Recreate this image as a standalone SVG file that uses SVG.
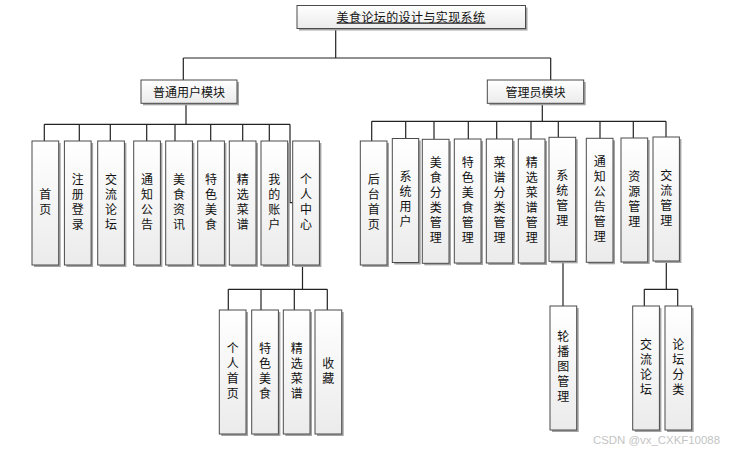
<svg xmlns="http://www.w3.org/2000/svg" width="739" height="452" viewBox="0 0 739 452">
<style>
.sh{fill:#a3a3a3}
.bx{fill:url(#g);stroke:#4a4a4a;stroke-width:1}
.t{font-family:"Noto Sans CJK SC","Noto Sans",sans-serif;font-size:12px;fill:#111;text-anchor:middle}
.v{font-family:"Noto Sans CJK SC","Noto Sans",sans-serif;font-size:12px;fill:#111;text-anchor:middle;writing-mode:vertical-rl;text-orientation:upright;letter-spacing:3px}
.ln{fill:none;stroke:#222;stroke-width:1.2}
.wm{font-family:"Liberation Sans",Arial,sans-serif;font-size:11.5px;fill:#c4c4c4}
</style>
<defs>
<linearGradient id="g" x1="0" y1="0" x2="0" y2="1">
<stop offset="0" stop-color="#ffffff"/>
<stop offset="1" stop-color="#ebebeb"/>
</linearGradient>
</defs>
<rect width="739" height="452" fill="#fff"/>

<g id="connectors" class="ln">
<path d="M335.7 28.7V58M183.3 58H550.7M183.3 58V80M550.7 58V80"/>
<path d="M186 103.3V124.3M44.3 124.3H290M44.3 124.3V141M79.3 124.3V141M110.3 124.3V141M146.7 124.3V141M175 124.3V141M210.7 124.3V141M242.7 124.3V141M269.3 124.3V141M290 124.3V202.7H292.7"/>
<path d="M302.5 265V289.3M228.3 289.3H327.3M228.3 289.3V310M261 289.3V310M294.3 289.3V310M327.3 289.3V310"/>
<path d="M542.3 103.3V121.3M371.7 121.3H666M371.7 121.3V141M405.7 121.3V138.5M434 121.3V139.3M468.3 121.3V139M496.7 121.3V139M531 121.3V139M558.3 121.3V137.3M600 121.3V138.3M633.3 121.3V138M666 121.3V137"/>
<path d="M563 261V306"/>
<path d="M666.3 261V289.3M644.3 289.3H677.7M644.3 289.3V306M677.7 289.3V306"/>
</g>

<g id="root">
<rect class="sh" x="299" y="7.5" width="228.5" height="23"/>
<rect class="bx" x="297" y="5.5" width="228.5" height="23"/>
<text class="t" x="411" y="21.5" letter-spacing="0.4" text-decoration="underline">美食论坛的设计与实现系统</text>
</g>
<g id="user-module">
<rect class="sh" x="143" y="82" width="96" height="23.3"/>
<rect class="bx" x="141" y="80" width="96" height="23.3"/>
<text class="t" x="189" y="96.5">普通用户模块</text>
</g>
<g id="admin-module">
<rect class="sh" x="489.3" y="82" width="96.4" height="23.3"/>
<rect class="bx" x="487.3" y="80" width="96.4" height="23.3"/>
<text class="t" x="535.5" y="96.5">管理员模块</text>
</g>

<g id="n-shouye">
<rect class="sh" x="34" y="143" width="26.7" height="124"/>
<rect class="bx" x="32" y="141" width="26.7" height="124"/>
<text class="v" x="45.3" y="203">首页</text>
</g>
<g id="n-zhuce">
<rect class="sh" x="66.4" y="143" width="26.7" height="124"/>
<rect class="bx" x="64.4" y="141" width="26.7" height="124"/>
<text class="v" x="77.7" y="203">注册登录</text>
</g>
<g id="n-jiaoliu">
<rect class="sh" x="99.7" y="143" width="26.7" height="124"/>
<rect class="bx" x="97.7" y="141" width="26.7" height="124"/>
<text class="v" x="111" y="203">交流论坛</text>
</g>
<g id="n-tongzhi">
<rect class="sh" x="135.7" y="143" width="26.7" height="124"/>
<rect class="bx" x="133.7" y="141" width="26.7" height="124"/>
<text class="v" x="147" y="203">通知公告</text>
</g>
<g id="n-zixun">
<rect class="sh" x="167.7" y="143" width="26.7" height="124"/>
<rect class="bx" x="165.7" y="141" width="26.7" height="124"/>
<text class="v" x="179" y="203">美食资讯</text>
</g>
<g id="n-tese">
<rect class="sh" x="199.7" y="143" width="26.7" height="124"/>
<rect class="bx" x="197.7" y="141" width="26.7" height="124"/>
<text class="v" x="211" y="203">特色美食</text>
</g>
<g id="n-jingxuan">
<rect class="sh" x="231.3" y="143" width="26.7" height="124"/>
<rect class="bx" x="229.3" y="141" width="26.7" height="124"/>
<text class="v" x="242.7" y="203">精选菜谱</text>
</g>
<g id="n-zhanghu">
<rect class="sh" x="263" y="143" width="26.7" height="124"/>
<rect class="bx" x="261" y="141" width="26.7" height="124"/>
<text class="v" x="274.3" y="203">我的账户</text>
</g>
<g id="n-geren">
<rect class="sh" x="294.7" y="143" width="26.7" height="124"/>
<rect class="bx" x="292.7" y="141" width="26.7" height="124"/>
<text class="v" x="306" y="203">个人中心</text>
</g>

<g id="n-gerenshouye">
<rect class="sh" x="221.3" y="312" width="26.7" height="124"/>
<rect class="bx" x="219.3" y="310" width="26.7" height="124"/>
<text class="v" x="232.7" y="372">个人首页</text>
</g>
<g id="n-tese2">
<rect class="sh" x="253.7" y="312" width="26.7" height="124"/>
<rect class="bx" x="251.7" y="310" width="26.7" height="124"/>
<text class="v" x="265" y="372">特色美食</text>
</g>
<g id="n-jingxuan2">
<rect class="sh" x="285.3" y="312" width="26.7" height="124"/>
<rect class="bx" x="283.3" y="310" width="26.7" height="124"/>
<text class="v" x="296.7" y="372">精选菜谱</text>
</g>
<g id="n-shoucang">
<rect class="sh" x="317" y="312" width="26.7" height="124"/>
<rect class="bx" x="315" y="310" width="26.7" height="124"/>
<text class="v" x="328.3" y="372">收藏</text>
</g>

<g id="a-houtai">
<rect class="sh" x="362.3" y="143" width="26.7" height="124"/>
<rect class="bx" x="360.3" y="141" width="26.7" height="124"/>
<text class="v" x="373.7" y="203">后台首页</text>
</g>
<g id="a-xitongyonghu">
<rect class="sh" x="394.3" y="140.5" width="26.4" height="124"/>
<rect class="bx" x="392.3" y="138.5" width="26.4" height="124"/>
<text class="v" x="405.5" y="200.5">系统用户</text>
</g>
<g id="a-meishifenlei">
<rect class="sh" x="424.3" y="141.3" width="26.7" height="124"/>
<rect class="bx" x="422.3" y="139.3" width="26.7" height="124"/>
<text class="v" x="435.7" y="201.3">美食分类管理</text>
</g>
<g id="a-tesemeishi">
<rect class="sh" x="456.3" y="141" width="26.7" height="124"/>
<rect class="bx" x="454.3" y="139" width="26.7" height="124"/>
<text class="v" x="467.7" y="201">特色美食管理</text>
</g>
<g id="a-caipufenlei">
<rect class="sh" x="488.3" y="141" width="26.4" height="124"/>
<rect class="bx" x="486.3" y="139" width="26.4" height="124"/>
<text class="v" x="499.5" y="201">菜谱分类管理</text>
</g>
<g id="a-jingxuancaipu">
<rect class="sh" x="520.3" y="141" width="26.7" height="124"/>
<rect class="bx" x="518.3" y="139" width="26.7" height="124"/>
<text class="v" x="531.7" y="201">精选菜谱管理</text>
</g>
<g id="a-xitongguanli">
<rect class="sh" x="551" y="139.3" width="26.7" height="124"/>
<rect class="bx" x="549" y="137.3" width="26.7" height="124"/>
<text class="v" x="562.3" y="199.3">系统管理</text>
</g>
<g id="a-tongzhi">
<rect class="sh" x="588.3" y="140.3" width="26.7" height="124"/>
<rect class="bx" x="586.3" y="138.3" width="26.7" height="124"/>
<text class="v" x="599.7" y="200.3">通知公告管理</text>
</g>
<g id="a-ziyuan">
<rect class="sh" x="623" y="140" width="26.7" height="124"/>
<rect class="bx" x="621" y="138" width="26.7" height="124"/>
<text class="v" x="634.3" y="200">资源管理</text>
</g>
<g id="a-jiaoliuguanli">
<rect class="sh" x="655" y="139" width="26.4" height="124"/>
<rect class="bx" x="653" y="137" width="26.4" height="124"/>
<text class="v" x="666.2" y="199">交流管理</text>
</g>

<g id="a-lunbotu">
<rect class="sh" x="552" y="308" width="26.7" height="124"/>
<rect class="bx" x="550" y="306" width="26.7" height="124"/>
<text class="v" x="563.3" y="368">轮播图管理</text>
</g>
<g id="a-jiaoliuluntan">
<rect class="sh" x="634.7" y="308" width="26.7" height="124"/>
<rect class="bx" x="632.7" y="306" width="26.7" height="124"/>
<text class="v" x="646" y="368">交流论坛</text>
</g>
<g id="a-luntanfenlei">
<rect class="sh" x="667" y="308" width="26.7" height="124"/>
<rect class="bx" x="665" y="306" width="26.7" height="124"/>
<text class="v" x="678.3" y="368">论坛分类</text>
</g>

<text class="wm" x="593" y="444" textLength="127" lengthAdjust="spacingAndGlyphs">CSDN @vx_CXKF10088</text>
</svg>
